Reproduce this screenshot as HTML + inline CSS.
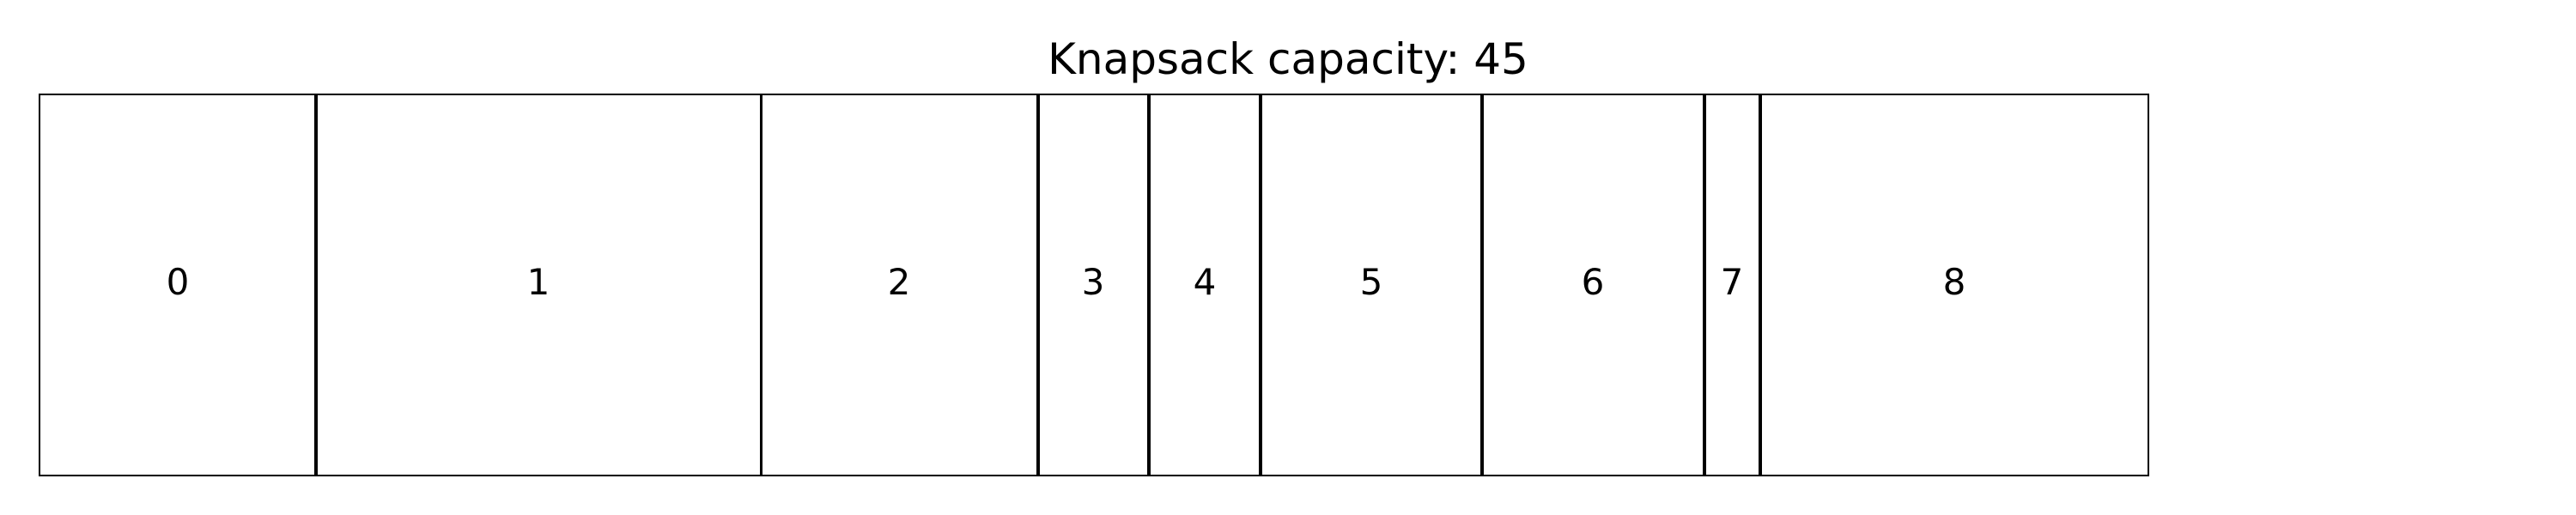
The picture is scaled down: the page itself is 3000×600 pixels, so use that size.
<!DOCTYPE html>
<html><head><meta charset="utf-8"><style>
html,body{margin:0;padding:0;background:#fff;width:3000px;height:600px;overflow:hidden}
</style></head><body>
<svg width="3000" height="600" xmlns="http://www.w3.org/2000/svg" font-family="DejaVu Sans, Liberation Sans, sans-serif">
<rect width="3000" height="600" fill="#fff"/>
<text x="1500" y="86" font-size="50" text-anchor="middle">Knapsack capacity: 45</text>
<g fill="none" stroke="#000" stroke-width="2">
<rect x="46" y="110" width="321" height="444"/>
<rect x="369" y="110" width="517" height="444"/>
<rect x="887" y="110" width="321" height="444"/>
<rect x="1210" y="110" width="127" height="444"/>
<rect x="1339" y="110" width="128" height="444"/>
<rect x="1469" y="110" width="256" height="444"/>
<rect x="1727" y="110" width="257" height="444"/>
<rect x="1986" y="110" width="63" height="444"/>
<rect x="2051" y="110" width="451" height="444"/>
</g>
<g font-size="42" text-anchor="middle">
<text x="207" y="343">0</text>
<text x="627" y="343">1</text>
<text x="1047" y="343">2</text>
<text x="1273" y="343">3</text>
<text x="1403" y="343">4</text>
<text x="1597" y="343">5</text>
<text x="1855" y="343">6</text>
<text x="2017" y="343">7</text>
<text x="2276" y="343">8</text>
</g>
</svg>
</body></html>
